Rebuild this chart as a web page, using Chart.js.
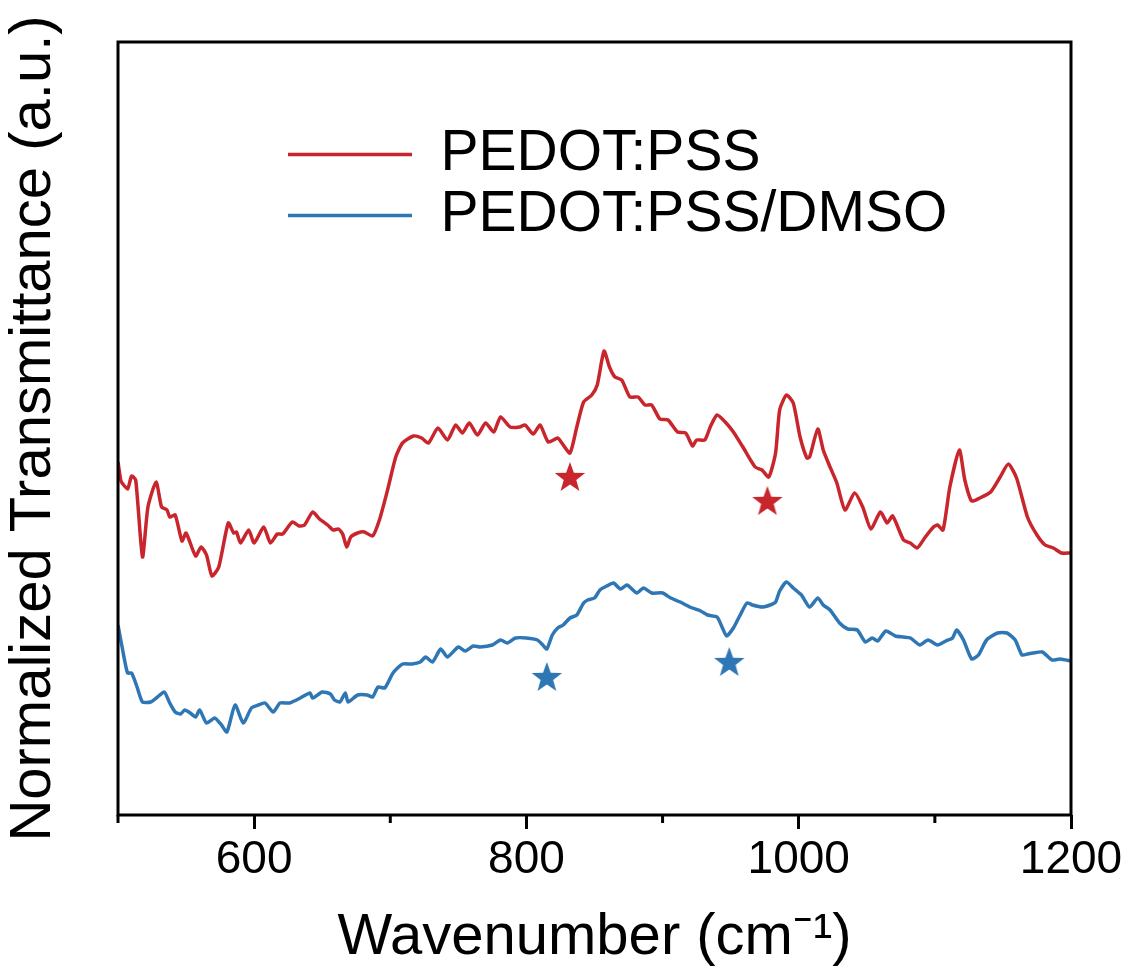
<!DOCTYPE html>
<html>
<head>
<meta charset="utf-8">
<script src="https://cdn.jsdelivr.net/npm/chart.js@4"></script>
<style>
  html, body { margin: 0; padding: 0; background: #fff; }
  #wrap { width: 1129px; height: 969px; }
</style>
</head>
<body>
<div id="wrap"><canvas id="ftirChart" width="1129" height="969"></canvas></div>
<script>
const ctx = document.getElementById("ftirChart").getContext("2d");

// values (wavenumber in cm-1, transmittance in a.u.)
const pssWn = [
  500, 502, 503, 507, 510, 513, 518, 522, 528, 532, 536, 538, 542, 547, 550,
  557, 561, 565, 569, 574, 581, 585, 587, 590, 596, 600, 607, 612, 617, 621,
  628, 633, 637, 643, 648, 654, 658, 662, 665, 668, 671, 676, 681, 687, 692,
  698, 704, 709, 717, 723, 728, 735, 742, 748, 753, 758, 764, 770, 776, 781,
  788, 795, 799, 805, 810, 816, 823, 826, 832, 837, 842, 848, 852, 857, 861,
  865, 870, 876, 882, 887, 892, 898, 904, 911, 917, 922, 925, 931, 935, 940,
  946, 952, 959, 968, 973, 978, 983, 986, 991, 996, 1001, 1006, 1008, 1014,
  1018, 1023, 1028, 1034, 1041, 1047, 1053, 1060, 1065, 1069, 1077, 1082,
  1087, 1093, 1099, 1102, 1106, 1111, 1118, 1122, 1127, 1133, 1141, 1148,
  1154, 1160, 1168, 1175, 1181, 1187, 1193, 1200,
];
const pssT = [
  35.3, 33.5, 33.2, 32.6, 33.9, 33.5, 25.8, 30.8, 33.3, 30.8, 30.5, 29.8, 30.0, 27.4, 28.2,
  25.9, 26.8, 26.0, 23.9, 24.8, 29.2, 28.2, 28.3, 27.2, 28.5, 27.2, 28.8, 27.2, 28.1, 28.1,
  29.3, 28.9, 29.0, 30.3, 29.6, 29.0, 28.5, 28.6, 28.1, 26.8, 27.8, 28.2, 28.3, 27.9, 29.5,
  32.5, 35.8, 37.2, 37.9, 37.7, 37.2, 38.7, 37.5, 39.0, 38.2, 39.2, 38.0, 39.2, 38.3, 39.8,
  38.8, 38.8, 39.0, 38.1, 39.0, 37.3, 37.7, 37.2, 36.2, 38.8, 41.3, 42.0, 43.0, 46.4, 44.8,
  43.8, 43.5, 41.8, 41.8, 41.0, 41.0, 39.6, 39.5, 38.3, 38.2, 36.9, 37.5, 37.5, 38.8, 40.0,
  39.3, 38.3, 36.8, 34.8, 34.5, 33.8, 36.2, 40.5, 42.0, 41.2, 37.8, 35.7, 35.8, 38.6,
  36.5, 34.8, 33.2, 30.5, 32.2, 30.8, 28.6, 30.3, 29.2, 29.9, 27.5, 27.2,
  26.7, 27.8, 28.8, 29.0, 28.5, 32.8, 36.5, 33.5, 31.4, 31.7, 32.3, 33.8,
  35.1, 33.7, 29.8, 28.0, 27.0, 26.7, 26.2, 26.2,
];

const dmsoWn = [
  500, 503, 507, 510, 514, 518, 524, 529, 534, 538, 542, 546, 549, 553, 557,
  560, 565, 571, 576, 580, 586, 592, 598, 603, 608, 614, 619, 626, 634, 641,
  643, 650, 656, 659, 663, 667, 669, 676, 683, 687, 691, 696, 702, 709, 716,
  722, 726, 731, 737, 742, 750, 755, 761, 766, 775, 781, 786, 792, 800, 808,
  812, 815, 819, 823, 827, 832, 837, 842, 845, 850, 854, 859, 864, 869, 874,
  881, 886, 892, 900, 906, 913, 920, 928, 933, 940, 944, 947, 952, 957, 962,
  966, 973, 979, 983, 986, 991, 996, 1002, 1008, 1014, 1018, 1023, 1030,
  1036, 1043, 1049, 1054, 1058, 1064, 1071, 1077, 1082, 1089, 1095, 1102,
  1108, 1113, 1116, 1121, 1127, 1132, 1138, 1146, 1153, 1159, 1164, 1168,
  1172, 1179, 1186, 1192, 1200,
];
const dmsoT = [
  19.0, 16.8, 14.2, 14.2, 12.8, 11.3, 11.3, 11.8, 12.3, 11.2, 10.3, 10.1, 10.5, 10.2, 9.8,
  10.5, 9.2, 9.7, 9.0, 8.3, 11.0, 9.2, 10.7, 11.0, 11.2, 10.3, 11.2, 11.2, 11.7, 12.2,
  11.7, 12.3, 12.1, 11.5, 11.3, 12.2, 11.3, 12.0, 12.0, 11.8, 12.8, 12.7, 14.2, 15.1, 15.1,
  15.3, 15.8, 15.3, 16.6, 15.8, 16.8, 16.4, 16.9, 16.8, 17.0, 17.5, 17.2, 17.7, 17.7, 17.5,
  17.0, 16.6, 18.0, 18.7, 19.0, 19.7, 20.0, 21.2, 21.5, 21.7, 22.5, 22.9, 23.2, 22.6, 23.0,
  22.2, 22.7, 22.2, 22.2, 21.7, 21.3, 20.8, 20.4, 20.0, 19.8, 18.7, 17.9, 18.7, 20.0, 21.2,
  21.0, 20.8, 21.0, 21.3, 22.4, 23.3, 22.7, 22.0, 20.8, 21.7, 21.0, 20.5, 19.2,
  18.6, 18.5, 17.3, 17.7, 17.4, 18.4, 17.9, 17.8, 17.7, 17.0, 17.5, 17.0,
  17.4, 17.7, 18.5, 17.5, 15.6, 16.0, 17.5, 18.2, 18.2, 17.5, 16.0, 16.1,
  16.2, 16.3, 15.5, 15.6, 15.4,
];

// star markers under the bands
const pssStarWn = [832, 977];
const pssStarT = [33.7, 31.3];
const dmsoStarWn = [815, 949];
const dmsoStarT = [13.7, 15.2];

const xMajorTicks = [600, 800, 1000, 1200];
const xMinorTicks = [500, 700, 900, 1100];

const RED = "#c8252c";
const BLUE = "#2f77b4";
const FONT = "'Liberation Sans', Arial, sans-serif";

function toPoints(xs, ys) {
  return xs.map((x, i) => ({ x: x, y: ys[i] }));
}

function makeStar(color) {
  const c = document.createElement("canvas");
  c.width = 34;
  c.height = 34;
  const g = c.getContext("2d");
  const R = 16, r = 6.6;
  g.beginPath();
  for (let i = 0; i < 10; i++) {
    const rad = i % 2 === 0 ? R : r;
    const a = -Math.PI / 2 + (i * Math.PI) / 5;
    g.lineTo(17 + rad * Math.cos(a), 17 + rad * Math.sin(a));
  }
  g.closePath();
  g.fillStyle = color;
  g.fill();
  return c;
}

// black box round the plot + short minor ticks
const framePlugin = {
  id: "frame",
  afterLayout(chart) {
    const lg = chart.legend;
    lg.left = 284;
    lg.top = 122;
  },
  afterDraw(chart) {
    const a = chart.chartArea;
    const c = chart.ctx;
    const xs = chart.scales.x;
    c.save();
    c.strokeStyle = "#000";
    c.lineWidth = 3;
    c.strokeRect(a.left, a.top, a.right - a.left, a.bottom - a.top);
    c.beginPath();
    xMinorTicks.forEach((v) => {
      const px = xs.getPixelForValue(v);
      c.moveTo(px, a.bottom);
      c.lineTo(px, a.bottom + 8);
    });
    c.stroke();
    c.restore();
  },
};

const data = {
  datasets: [
    {
      label: "PEDOT:PSS",
      data: toPoints(pssWn, pssT),
      borderColor: RED,
      backgroundColor: RED,
      borderWidth: 3.5,
      pointRadius: 0,
      tension: 0.2,
    },
    {
      label: "PEDOT:PSS/DMSO",
      data: toPoints(dmsoWn, dmsoT),
      borderColor: BLUE,
      backgroundColor: BLUE,
      borderWidth: 3.5,
      pointRadius: 0,
      tension: 0.2,
    },
    {
      label: "stars1",
      data: toPoints(pssStarWn, pssStarT),
      showLine: false,
      pointStyle: makeStar(RED),
      pointRadius: 16,
    },
    {
      label: "stars2",
      data: toPoints(dmsoStarWn, dmsoStarT),
      showLine: false,
      pointStyle: makeStar(BLUE),
      pointRadius: 16,
    },
  ],
};

const config = {
  type: "line",
  data: data,
  plugins: [framePlugin],
  options: {
    responsive: false,
    animation: false,
    layout: {
      padding: { top: 42, right: 58, left: 0, bottom: 0 },
    },
    plugins: {
      tooltip: { enabled: false },
      legend: {
        position: "chartArea",
        align: "start",
        labels: {
          usePointStyle: true,
          pointStyle: "line",
          pointStyleWidth: 124,
          padding: 4,
          color: "#000",
          font: { family: FONT, size: 57 },
          filter: (item) => item.datasetIndex < 2,
        },
      },
    },
    scales: {
      x: {
        type: "linear",
        min: 500,
        max: 1200,
        afterBuildTicks: (scale) => {
          scale.ticks = xMajorTicks.map((v) => ({ value: v }));
        },
        afterFit: (scale) => {
          scale.height = 154;
        },
        border: { display: false },
        grid: {
          drawOnChartArea: false,
          drawTicks: true,
          tickLength: 14,
          tickWidth: 3,
          tickColor: "#000",
        },
        ticks: {
          color: "#000",
          padding: 4,
          maxRotation: 0,
          font: { family: FONT, size: 46 },
          callback: (v) => String(v),
        },
        title: {
          display: true,
          text: "Wavenumber (cm\u207B\u00B9)",
          color: "#000",
          font: { family: FONT, size: 58, lineHeight: 1 },
          padding: { top: 0, bottom: 2 },
        },
      },
      y: {
        min: 0,
        max: 77.3,
        afterFit: (scale) => {
          scale.width = 118;
        },
        border: { display: false },
        grid: { display: false },
        ticks: { display: false },
        title: {
          display: true,
          text: "Normalized Transmittance (a.u.)",
          color: "#000",
          font: { family: FONT, size: 58, lineHeight: 1 },
          padding: { top: 5, bottom: 0 },
        },
      },
    },
  },
};

const ftirChart = new Chart(ctx, config);
</script>
</body>
</html>
